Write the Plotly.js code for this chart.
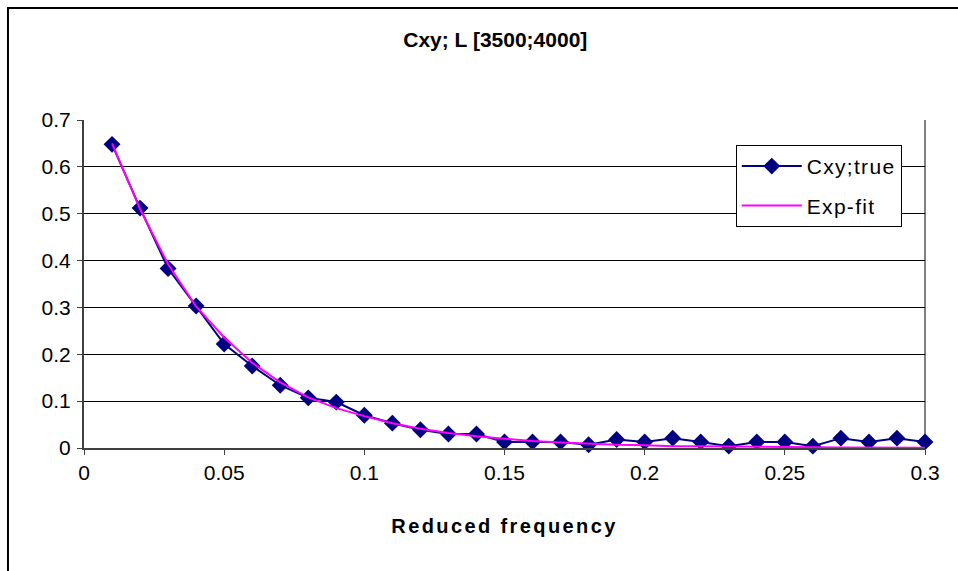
<!DOCTYPE html>
<html>
<head>
<meta charset="utf-8">
<script src="https://cdn.plot.ly/plotly-3.0.1.min.js"></script>
<style>
html,body{margin:0;padding:0;background:#fff;}
#chart{width:958px;height:571px;}
.xtitle{letter-spacing:2.4px;}
.legendtext{letter-spacing:1.3px;}
</style>
</head>
<body>
<div id="chart"></div>
<script>
const freq = [0.01,0.02,0.03,0.04,0.05,0.06,0.07,0.08,0.09,0.10,
              0.11,0.12,0.13,0.14,0.15,0.16,0.17,0.18,0.19,0.20,
              0.21,0.22,0.23,0.24,0.25,0.26,0.27,0.28,0.29,0.30];
const cxyTrue = [0.648,0.512,0.383,0.303,0.222,0.175,0.134,0.107,0.098,0.070,
                 0.053,0.039,0.030,0.030,0.013,0.013,0.013,0.007,0.018,0.013,
                 0.021,0.013,0.004,0.013,0.013,0.004,0.021,0.013,0.021,0.013];
const expFit = [0.650,0.510,0.392,0.302,0.236,0.182,0.140,0.108,0.085,0.068,
                0.053,0.041,0.032,0.025,0.020,0.015,0.012,0.009,0.007,0.006,
                0.004,0.004,0.003,0.002,0.002,0.0015,0.001,0.001,0.001,0.0005];
const seriesNames = ["Cxy;true","Exp-fit"];
const chartTitle = "Cxy; L [3500;4000]";
const xTitle = "Reduced frequency";

const FONT = "Liberation Sans, Arial, sans-serif";

const traces = [
  {
    x: freq, y: cxyTrue, name: seriesNames[0], type: "scatter", mode: "lines+markers",
    line: {color: "#000080", width: 2},
    marker: {symbol: "diamond", size: 13, color: "#000080"},
    cliponaxis: false, legendgroup: "a"
  },
  {
    x: freq, y: expFit, name: seriesNames[1], type: "scatter", mode: "lines",
    line: {color: "#FF00FF", width: 2},
    cliponaxis: false, legendgroup: "b"
  }
];

const layout = {
  width: 958, height: 571,
  margin: {l: 84, r: 33, t: 120, b: 123},
  paper_bgcolor: "#ffffff", plot_bgcolor: "#ffffff",
  font: {family: FONT, color: "#000", size: 21},
  title: {
    text: chartTitle,
    font: {family: FONT, size: 21, weight: "bold", color: "#000"},
    x: 0.517, xanchor: "center", xref: "container",
    y: 0.93, yanchor: "middle", yref: "container"
  },
  showlegend: true,
  legend: {
    x: 0.775, xanchor: "left", y: 0.924, yanchor: "top",
    bgcolor: "#ffffff", bordercolor: "#000000", borderwidth: 1,
    font: {family: FONT, size: 21, color: "#000"},
    itemwidth: 60, tracegroupgap: 9, traceorder: "grouped"
  },
  xaxis: {
    range: [0, 0.3], dtick: 0.05, tick0: 0,
    showgrid: false, zeroline: false,
    showline: true, linecolor: "#404040", linewidth: 2,
    ticks: "outside", ticklen: 5, tickcolor: "#404040", tickwidth: 1,
    tickfont: {family: FONT, size: 21, color: "#000"},
    ticklabelstandoff: 0,
    title: {text: xTitle, font: {family: FONT, size: 20, weight: "bold", color: "#000"}, standoff: 36},
    automargin: false
  },
  yaxis: {
    range: [0, 0.7], dtick: 0.1, tick0: 0,
    showgrid: true, gridcolor: "#000000", gridwidth: 1,
    zeroline: false,
    showline: true, linecolor: "#404040", linewidth: 2,
    ticks: "outside", ticklen: 5, tickcolor: "#404040", tickwidth: 1,
    tickfont: {family: FONT, size: 21, color: "#000"},
    ticklabelstandoff: 2,
    automargin: false
  },
  shapes: [
    {type: "line", xref: "paper", yref: "paper", x0: 1, x1: 1, y0: 0, y1: 1,
     line: {color: "#808080", width: 2}, layer: "below"},
    {type: "rect", xref: "paper", yref: "paper",
     x0: -0.0904, x1: 1.3, y0: -0.6, y1: 1.3415,
     line: {color: "#000000", width: 2}, fillcolor: "rgba(0,0,0,0)", layer: "above"}
  ]
};

Plotly.newPlot("chart", traces, layout, {displayModeBar: false, staticPlot: true});
</script>
</body>
</html>
